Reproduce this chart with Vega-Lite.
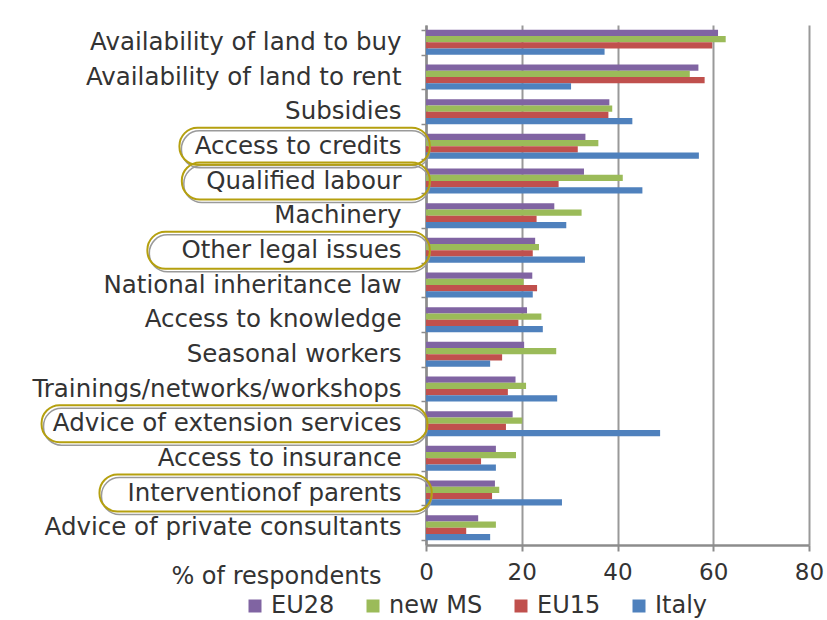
{
  "$schema": "https://vega.github.io/schema/vega-lite/v6.json",
  "autosize": {"type": "none"},
  "padding": {"left": 426, "top": 25, "right": 18, "bottom": 75},
  "width": 383,
  "height": 520,
  "background": "white",
  "config": {
    "font": "DejaVu Sans",
    "view": {"stroke": null},
    "axis": {"labelColor": "#333333", "titleColor": "#333333", "labelFont": "DejaVu Sans", "titleFont": "DejaVu Sans"}
  },
  "datasets": {
    "bars": [
      {"cat": "Availability of land to buy", "series": "EU28", "value": 61.0},
      {"cat": "Availability of land to buy", "series": "new MS", "value": 62.6},
      {"cat": "Availability of land to buy", "series": "EU15", "value": 59.8},
      {"cat": "Availability of land to buy", "series": "Italy", "value": 37.3},
      {"cat": "Availability of land to rent", "series": "EU28", "value": 56.9},
      {"cat": "Availability of land to rent", "series": "new MS", "value": 55.1},
      {"cat": "Availability of land to rent", "series": "EU15", "value": 58.2},
      {"cat": "Availability of land to rent", "series": "Italy", "value": 30.3},
      {"cat": "Subsidies", "series": "EU28", "value": 38.3},
      {"cat": "Subsidies", "series": "new MS", "value": 38.9},
      {"cat": "Subsidies", "series": "EU15", "value": 38.1},
      {"cat": "Subsidies", "series": "Italy", "value": 43.1},
      {"cat": "Access to credits", "series": "EU28", "value": 33.3},
      {"cat": "Access to credits", "series": "new MS", "value": 36.0},
      {"cat": "Access to credits", "series": "EU15", "value": 31.7},
      {"cat": "Access to credits", "series": "Italy", "value": 57.0},
      {"cat": "Qualified labour", "series": "EU28", "value": 33.0},
      {"cat": "Qualified labour", "series": "new MS", "value": 41.1},
      {"cat": "Qualified labour", "series": "EU15", "value": 27.7},
      {"cat": "Qualified labour", "series": "Italy", "value": 45.2},
      {"cat": "Machinery", "series": "EU28", "value": 26.8},
      {"cat": "Machinery", "series": "new MS", "value": 32.5},
      {"cat": "Machinery", "series": "EU15", "value": 23.1},
      {"cat": "Machinery", "series": "Italy", "value": 29.3},
      {"cat": "Other legal issues", "series": "EU28", "value": 22.8},
      {"cat": "Other legal issues", "series": "new MS", "value": 23.6},
      {"cat": "Other legal issues", "series": "EU15", "value": 22.3},
      {"cat": "Other legal issues", "series": "Italy", "value": 33.2},
      {"cat": "National inheritance law", "series": "EU28", "value": 22.2},
      {"cat": "National inheritance law", "series": "new MS", "value": 20.4},
      {"cat": "National inheritance law", "series": "EU15", "value": 23.2},
      {"cat": "National inheritance law", "series": "Italy", "value": 22.3},
      {"cat": "Access to knowledge", "series": "EU28", "value": 21.1},
      {"cat": "Access to knowledge", "series": "new MS", "value": 24.1},
      {"cat": "Access to knowledge", "series": "EU15", "value": 19.3},
      {"cat": "Access to knowledge", "series": "Italy", "value": 24.4},
      {"cat": "Seasonal workers", "series": "EU28", "value": 20.5},
      {"cat": "Seasonal workers", "series": "new MS", "value": 27.2},
      {"cat": "Seasonal workers", "series": "EU15", "value": 15.9},
      {"cat": "Seasonal workers", "series": "Italy", "value": 13.4},
      {"cat": "Trainings/networks/workshops", "series": "EU28", "value": 18.7},
      {"cat": "Trainings/networks/workshops", "series": "new MS", "value": 20.9},
      {"cat": "Trainings/networks/workshops", "series": "EU15", "value": 17.1},
      {"cat": "Trainings/networks/workshops", "series": "Italy", "value": 27.4},
      {"cat": "Advice of extension services", "series": "EU28", "value": 18.1},
      {"cat": "Advice of extension services", "series": "new MS", "value": 20.1},
      {"cat": "Advice of extension services", "series": "EU15", "value": 16.7},
      {"cat": "Advice of extension services", "series": "Italy", "value": 48.9},
      {"cat": "Access to insurance", "series": "EU28", "value": 14.6},
      {"cat": "Access to insurance", "series": "new MS", "value": 18.8},
      {"cat": "Access to insurance", "series": "EU15", "value": 11.5},
      {"cat": "Access to insurance", "series": "Italy", "value": 14.6},
      {"cat": "Interventionof parents", "series": "EU28", "value": 14.4},
      {"cat": "Interventionof parents", "series": "new MS", "value": 15.3},
      {"cat": "Interventionof parents", "series": "EU15", "value": 13.8},
      {"cat": "Interventionof parents", "series": "Italy", "value": 28.4},
      {"cat": "Advice of private consultants", "series": "EU28", "value": 10.9},
      {"cat": "Advice of private consultants", "series": "new MS", "value": 14.6},
      {"cat": "Advice of private consultants", "series": "EU15", "value": 8.4},
      {"cat": "Advice of private consultants", "series": "Italy", "value": 13.4}
    ],
    "circled": [
      {"cat": "Access to credits", "start": -51.5, "end": 0.8},
      {"cat": "Qualified labour", "start": -51.0, "end": 0.8},
      {"cat": "Other legal issues", "start": -58.2, "end": 0.8},
      {"cat": "Advice of extension services", "start": -80.3, "end": 0.3},
      {"cat": "Interventionof parents", "start": -68.2, "end": 1.2}
    ]
  },
  "layer": [
    {
      "data": {"name": "bars"},
      "mark": {"type": "bar"},
      "encoding": {
        "y": {
          "field": "cat", "type": "nominal",
          "sort": ["Availability of land to buy", "Availability of land to rent", "Subsidies", "Access to credits", "Qualified labour", "Machinery", "Other legal issues", "National inheritance law", "Access to knowledge", "Seasonal workers", "Trainings/networks/workshops", "Advice of extension services", "Access to insurance", "Interventionof parents", "Advice of private consultants"],
          "scale": {"paddingInner": 0.28, "paddingOuter": 0.14},
          "axis": {
            "title": null,
            "labelFontSize": 24.5,
            "labelPadding": 20,
            "labelLimit": 420,
            "tickBand": "extent",
            "tickSize": 5,
            "tickColor": "#8c8c8c",
            "tickWidth": 1.5,
            "domainColor": "#8c8c8c",
            "domainWidth": 2.5,
            "grid": false
          }
        },
        "yOffset": {"field": "series", "type": "nominal", "sort": ["EU28", "new MS", "EU15", "Italy"], "scale": {"paddingInner": 0, "paddingOuter": 0}},
        "x": {
          "field": "value", "type": "quantitative",
          "scale": {"domain": [0, 80], "nice": false},
          "axis": {
            "title": "% of respondents",
            "titleFontSize": 24,
            "titleFontWeight": "normal",
            "titleAnchor": "start",
            "titleAlign": "right",
            "titleBaseline": "middle",
            "titleX": -45,
            "titleY": 31,
            "values": [0, 20, 40, 60, 80],
            "labelFontSize": 23,
            "labelFlush": false,
            "labelPadding": 10,
            "tickSize": 6,
            "tickColor": "#8c8c8c",
            "tickWidth": 2,
            "domainColor": "#8c8c8c",
            "domainWidth": 2.5,
            "grid": true,
            "gridColor": "#999999",
            "gridWidth": 2
          }
        },
        "color": {
          "field": "series", "type": "nominal",
          "scale": {"domain": ["EU28", "new MS", "EU15", "Italy"], "range": ["#8064A2", "#9BBB59", "#C0504D", "#4F81BD"]},
          "legend": {
            "title": null,
            "orient": "none",
            "direction": "horizontal",
            "legendX": -183,
            "legendY": 569,
            "symbolType": "square",
            "symbolSize": 169,
            "symbolStrokeWidth": 0,
            "labelFontSize": 24,
            "labelColor": "#333333",
            "labelFont": "DejaVu Sans",
            "columnPadding": 26,
            "labelOffset": 4
          }
        }
      }
    },
    {
      "data": {"name": "circled"},
      "mark": {"type": "bar", "height": 37, "cornerRadius": 18, "fill": null, "fillOpacity": 0, "stroke": "#9a9a9a", "strokeWidth": 1.5, "xOffset": 2, "yOffset": 3},
      "encoding": {
        "y": {"field": "cat", "type": "nominal", "sort": ["Availability of land to buy", "Availability of land to rent", "Subsidies", "Access to credits", "Qualified labour", "Machinery", "Other legal issues", "National inheritance law", "Access to knowledge", "Seasonal workers", "Trainings/networks/workshops", "Advice of extension services", "Access to insurance", "Interventionof parents", "Advice of private consultants"]},
        "x": {"field": "start", "type": "quantitative", "scale": {"domain": [0, 80], "nice": false}},
        "x2": {"field": "end"}
      }
    },
    {
      "data": {"name": "circled"},
      "mark": {"type": "bar", "height": 37, "cornerRadius": 18, "fill": null, "fillOpacity": 0, "stroke": "#B5A00F", "strokeWidth": 2},
      "encoding": {
        "y": {"field": "cat", "type": "nominal", "sort": ["Availability of land to buy", "Availability of land to rent", "Subsidies", "Access to credits", "Qualified labour", "Machinery", "Other legal issues", "National inheritance law", "Access to knowledge", "Seasonal workers", "Trainings/networks/workshops", "Advice of extension services", "Access to insurance", "Interventionof parents", "Advice of private consultants"]},
        "x": {"field": "start", "type": "quantitative", "scale": {"domain": [0, 80], "nice": false}},
        "x2": {"field": "end"}
      }
    }
  ]
}
